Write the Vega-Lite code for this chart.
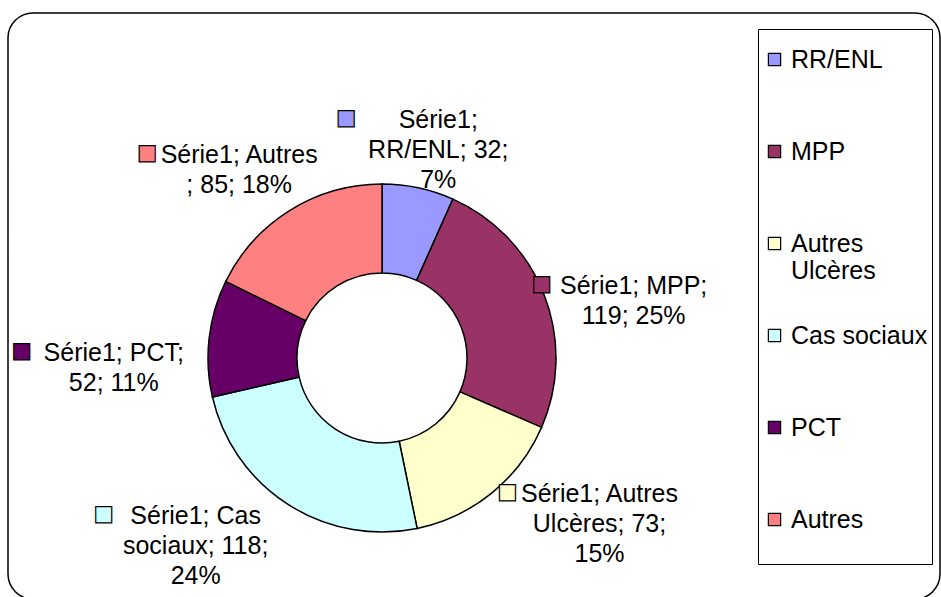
{
  "$schema": "https://vega.github.io/schema/vega-lite/v6.json",
  "autosize": {"type": "none"},
  "padding": {"left": 8, "top": 13, "right": 1, "bottom": 0},
  "width": 932,
  "height": 586,
  "background": "white",
  "view": {"stroke": "black", "strokeWidth": 1.5, "cornerRadius": 25},
  "data": {
    "values": [
      {"categorie": "RR/ENL", "valeur": 32, "ordre": 1, "etiquette": "Série1;\nRR/ENL; 32;\n7%"},
      {"categorie": "MPP", "valeur": 119, "ordre": 2, "etiquette": "Série1; MPP;\n119; 25%"},
      {"categorie": "Autres Ulcères", "valeur": 73, "ordre": 3, "etiquette": "Série1; Autres\nUlcères; 73;\n15%"},
      {"categorie": "Cas sociaux", "valeur": 118, "ordre": 4, "etiquette": "Série1; Cas\nsociaux; 118;\n24%"},
      {"categorie": "PCT", "valeur": 52, "ordre": 5, "etiquette": "Série1; PCT;\n52; 11%"},
      {"categorie": "Autres", "valeur": 85, "ordre": 6, "etiquette": "Série1; Autres\n; 85; 18%"}
    ]
  },
  "config": {
    "font": "Liberation Sans",
    "view": {"stroke": "black", "strokeWidth": 1.5, "cornerRadius": 25}
  },
  "encoding": {
    "theta": {"field": "valeur", "type": "quantitative", "stack": true},
    "order": {"field": "ordre", "type": "quantitative"},
    "color": {
      "field": "categorie",
      "type": "nominal",
      "scale": {
        "domain": ["RR/ENL", "MPP", "Autres Ulcères", "Cas sociaux", "PCT", "Autres"],
        "range": ["#9999FF", "#993366", "#FFFFCC", "#CCFFFF", "#660066", "#FF8080"]
      },
      "legend": {
        "orient": "none",
        "legendX": 750,
        "legendY": 16,
        "title": " ",
        "titleFontSize": 10,
        "titlePadding": 4,
        "symbolType": "square",
        "symbolSize": 150,
        "symbolStrokeColor": "black",
        "symbolStrokeWidth": 1.2,
        "labelFont": "Liberation Sans",
        "labelFontSize": 25,
        "labelColor": "black",
        "labelOffset": 4,
        "labelLimit": 400,
        "rowPadding": 39,
        "padding": 4,
        "strokeColor": "black",
        "labelExpr": "datum.label == 'Autres Ulcères' ? ['Autres', 'Ulcères'] : [datum.label, '']"
      }
    }
  },
  "layer": [
    {
      "mark": {"type": "arc", "outerRadius": 174, "innerRadius": 85, "stroke": "black", "strokeWidth": 1.5, "xOffset": -92, "yOffset": 52}
    },
    {
      "mark": {"type": "text", "radius": 270, "xOffset": -92, "yOffset": 52, "dy": 26, "baseline": "middle", "align": "center", "fontSize": 25, "lineBreak": "\n", "lineHeight": 30},
      "encoding": {
        "color": {"value": "black"},
        "text": {"condition": {"test": "cos(scale('theta', (datum.valeur_start + datum.valeur_end) / 2)) > 0", "field": "etiquette", "type": "nominal"}, "value": ""}
      }
    },
    {
      "mark": {"type": "text", "radius": 270, "xOffset": -92, "yOffset": 52, "dy": 24, "dx": -92, "baseline": "middle", "align": "center", "font": "DejaVu Sans", "fontSize": 21, "stroke": "black", "strokeWidth": 1.2},
      "encoding": {
        "text": {"condition": {"test": "cos(scale('theta', (datum.valeur_start + datum.valeur_end) / 2)) > 0", "value": "■"}, "value": ""}
      }
    },
    {
      "mark": {"type": "text", "radius": 345, "xOffset": -92, "yOffset": 52, "dy": -132, "baseline": "middle", "align": "center", "fontSize": 25, "lineBreak": "\n", "lineHeight": 30},
      "encoding": {
        "color": {"value": "black"},
        "text": {"condition": {"test": "cos(scale('theta', (datum.valeur_start + datum.valeur_end) / 2)) <= 0", "field": "etiquette", "type": "nominal"}, "value": ""}
      }
    },
    {
      "mark": {"type": "text", "radius": 345, "xOffset": -92, "yOffset": 52, "dy": -134, "dx": -92, "baseline": "middle", "align": "center", "font": "DejaVu Sans", "fontSize": 21, "stroke": "black", "strokeWidth": 1.2},
      "encoding": {
        "text": {"condition": {"test": "cos(scale('theta', (datum.valeur_start + datum.valeur_end) / 2)) <= 0", "value": "■"}, "value": ""}
      }
    }
  ]
}
